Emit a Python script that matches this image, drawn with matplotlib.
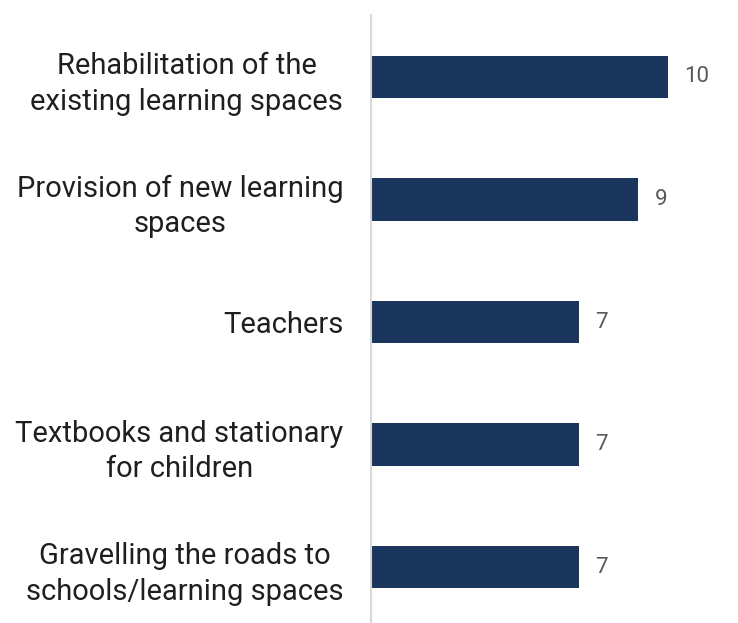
import matplotlib.pyplot as plt
import numpy as np

categories = [
    'Rehabilitation of the\nexisting learning spaces',
    'Provision of new learning\nspaces',
    'Teachers',
    'Textbooks and stationary\nfor children',
    'Gravelling the roads to\nschools/learning spaces',
]
counts = [10, 9, 7, 7, 7]

bar_color = '#1b365d'
plt.rcParams['font.family'] = ['Roboto', 'DejaVu Sans']

fig = plt.figure(figsize=(7.38, 6.23), dpi=100)
ax = fig.add_axes([371 / 738, 0.0, 356 / 738, 608 / 623])

y = np.arange(len(categories))
bars = ax.barh(y, counts, height=0.35, color=bar_color)

ax.set_xlim(0, 12)
ax.set_ylim(4.457, -0.506)

for b, v in zip(bars, counts):
    ax.annotate(str(v), (b.get_width(), b.get_y() + b.get_height() / 2),
                xytext=(12, 0), textcoords='offset points',
                ha='left', va='center', fontsize=16, color='#595959')

ax.set_yticks(y)
ax.set_yticklabels(categories, fontsize=21, color='#1f1f1f',
                   multialignment='center', linespacing=1.35)
ax.tick_params(axis='y', length=0, pad=20)
ax.set_xticks([])

for side in ['top', 'right', 'bottom']:
    ax.spines[side].set_visible(False)
ax.spines['left'].set_color('#d9d9d9')
ax.spines['left'].set_linewidth(1.5)

fig.savefig('out.png', dpi=100)
